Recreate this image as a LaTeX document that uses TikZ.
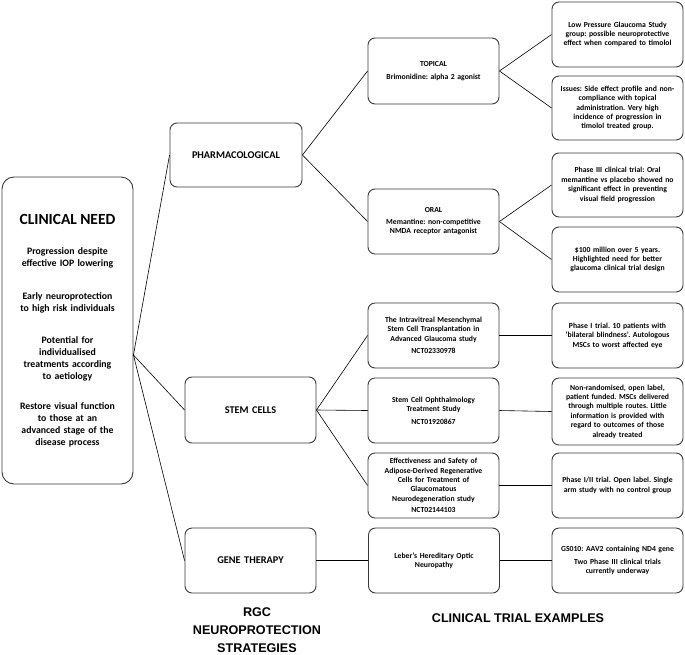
\documentclass[tikz,border=0pt]{standalone}
\usepackage{fontspec}
\setmainfont{Carlito}
\newfontfamily\headfont{Liberation Sans}
\frenchspacing
\definecolor{boxgray}{HTML}{3A3A3A}
\tikzset{
  box/.style={draw=boxgray, line width=0.9pt, rounded corners=7pt,
    minimum width=131pt, minimum height=65pt, align=center, inner sep=2pt,
    text width=127pt, font=\bfseries\fontsize{7.7}{9.4}\selectfont},
  bigbox/.style={box, font=\bfseries\fontsize{10.3}{12}\selectfont},
  needbox/.style={draw=boxgray, line width=0.9pt, rounded corners=12pt,
    minimum width=131pt, minimum height=307pt, align=center, inner sep=2pt,
    text width=127pt, font=\bfseries\fontsize{9.8}{12}\selectfont},
  conn/.style={draw=black, line width=0.6pt},
  heading/.style={align=center, font=\headfont\bfseries\fontsize{12.6}{18}\selectfont}
}
\begin{document}
\begin{tikzpicture}[x=1pt,y=-1pt]
\useasboundingbox (0,0) rectangle (685,654);
% clinical need
\node[needbox] (cn) at (67.5,330.5) {{\fontsize{15.5}{18}\selectfont CLINICAL NEED}\\[18pt]
Progression despite\\ effective IOP lowering\\[21pt]
Early neuroprotection\\ to high risk individuals\\[20pt]
Potential for\\ individualised\\ treatments according\\ to aetiology\\[18pt]
Restore visual function\\ to those at an\\ advanced stage of the\\ disease process};
\coordinate (cnout) at ([yshift=-24.5pt]cn.east);
% strategies
\node[bigbox, minimum width=132pt, minimum height=64pt] (ph) at (236,155) {PHARMACOLOGICAL};
\node[bigbox, minimum height=66pt] (sc) at (250.5,410) {STEM CELLS};
\node[bigbox] (gt) at (250.5,560.5) {GENE THERAPY};
% middle column
\node[box, minimum height=66pt] (top) at (433.5,71) {TOPICAL\\[3pt] Brimonidine: alpha 2 agonist};
\node[box] (oral) at (433.5,221.5) {ORAL\\[2pt] Memantine: non-competitive\\ NMDA receptor antagonist};
\node[box] (ivt) at (433.5,335.5) {The Intravitreal Mesenchymal\\ Stem Cell Transplantation in\\ Advanced Glaucoma study\\[3pt] NCT02330978};
\node[box] (sco) at (433.5,410.5) {Stem Cell Ophthalmology\\ Treatment Study\\[3pt] NCT01920867};
\node[box] (eff) at (433.5,485.5) {Effectiveness and Safety of\\ Adipose-Derived Regenerative\\ Cells for Treatment of\\ Glaucomatous\\ Neurodegeneration study\\[2pt] NCT02144103};
\node[box] (leb) at (434,560.5) {Leber’s Hereditary Optic\\ Neuropathy};
% right column
\node[box] (lp) at (617.5,34.5) {Low Pressure Glaucoma Study\\ group: possible neuroprotective\\ effect when compared to timolol};
\node[box, minimum height=64pt] (iss) at (617.5,108) {Issues: Side effect profile and non-\\ compliance with topical\\ administration. Very high\\ incidence of progression in\\ timolol treated group.};
\node[box, minimum height=64pt] (p3) at (617.5,185) {Phase III clinical trial: Oral\\ memantine vs placebo showed no\\ significant effect in preventing\\ visual field progression};
\node[box] (m100) at (617.5,259.5) {\$100 million over 5 years.\\ Highlighted need for better\\ glaucoma clinical trial design};
\node[box] (p1) at (617.5,335.5) {Phase I trial. 10 patients with\\ ‘bilateral blindness’. Autologous\\ MSCs to worst affected eye};
\node[box, minimum height=67pt] (nr) at (617.5,411.5) {Non-randomised, open label,\\ patient funded. MSCs delivered\\ through multiple routes. Little\\ information is provided with\\ regard to outcomes of those\\ already treated};
\node[box] (p12) at (617.5,485.5) {Phase I/II trial. Open label. Single\\ arm study with no control group};
\node[box] (gs) at (617.5,560.5) {GS010: AAV2 containing ND4 gene\\[3pt] Two Phase III clinical trials\\ currently underway};
% headings
\node[heading] (h1) at (257,630) {RGC\\ NEUROPROTECTION\\ STRATEGIES};
\node[heading] (h2) at (518,618) {CLINICAL TRIAL EXAMPLES};
% connectors
\draw[conn] (cnout) -- (ph.west);
\draw[conn] (cnout) -- (sc.west);
\draw[conn] (cnout) -- (gt.west);
\draw[conn] (ph.east) -- (top.west);
\draw[conn] (ph.east) -- (oral.west);
\draw[conn] (top.east) -- (lp.west);
\draw[conn] (top.east) -- (iss.west);
\draw[conn] (oral.east) -- (p3.west);
\draw[conn] (oral.east) -- (m100.west);
\draw[conn] (sc.east) -- (ivt.west);
\draw[conn] (sc.east) -- (sco.west);
\draw[conn] (sc.east) -- (eff.west);
\draw[conn] (ivt.east) -- (p1.west);
\draw[conn] (sco.east) -- (nr.west);
\draw[conn] (eff.east) -- (p12.west);
\draw[conn] (gt.east) -- (leb.west);
\draw[conn] (leb.east) -- (gs.west);
\end{tikzpicture}
\end{document}
